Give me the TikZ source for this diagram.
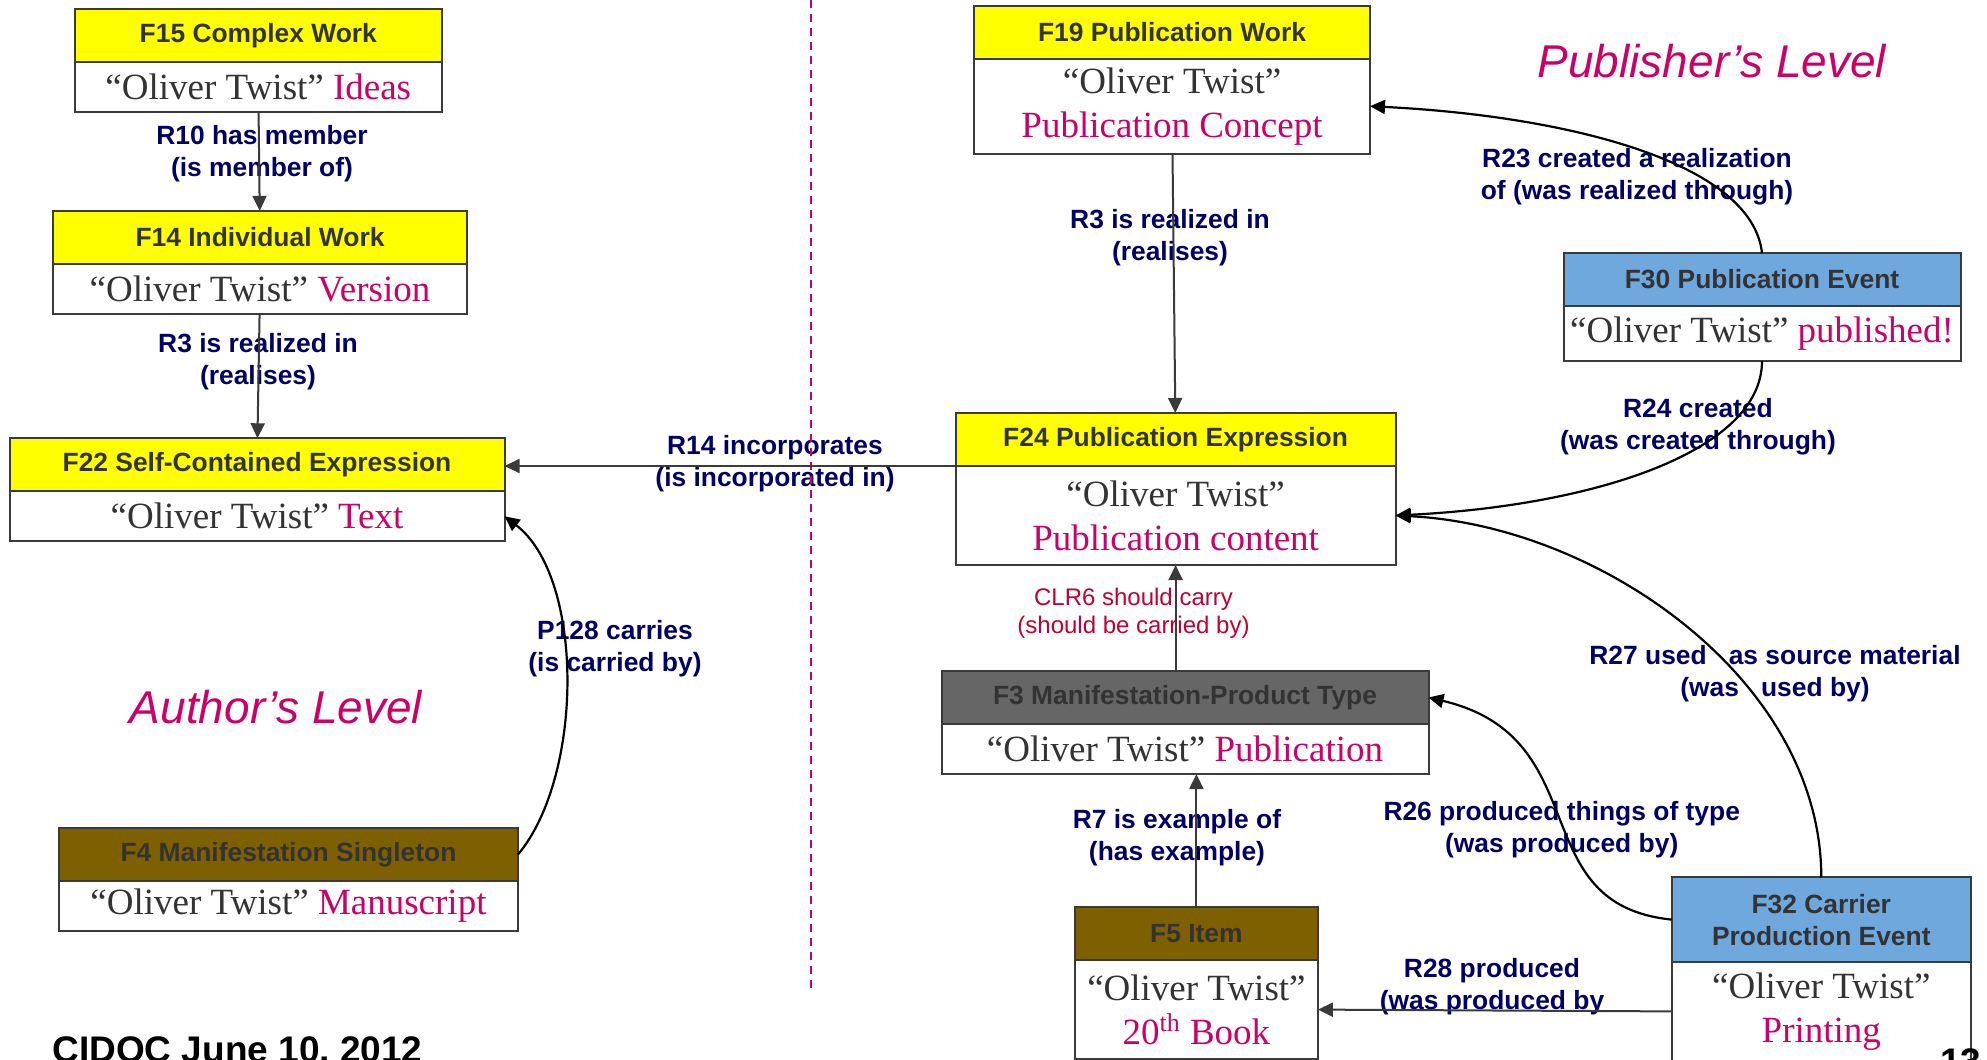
\documentclass[tikz,border=0pt]{standalone}
\usepackage{fontspec}
\setmainfont{Liberation Serif}
\setsansfont{Liberation Sans}
\usetikzlibrary{positioning,arrows.meta}

\definecolor{hdyellow}{RGB}{255,255,0}
\definecolor{hdblue}{RGB}{111,168,220}
\definecolor{hdbrown}{RGB}{127,96,0}
\definecolor{hdgray}{RGB}{102,102,102}
\definecolor{txtgray}{RGB}{51,51,51}
\definecolor{mag}{RGB}{204,0,102}
\definecolor{navy}{RGB}{0,0,102}
\definecolor{clrred}{RGB}{192,0,48}
\definecolor{edge}{RGB}{58,58,58}

\newcommand{\ot}{“Oliver Twist”}
\newcommand{\kind}[1]{\textcolor{mag}{#1}}

\begin{document}
\begin{tikzpicture}[
    x=0.5pt, y=-0.5pt,
    >={Triangle[length=7.5pt,width=7pt]},
    ent/.style={rectangle, draw=edge, line width=1pt, outer sep=0pt, inner sep=0pt, align=center, minimum height=26.5pt, text=txtgray, font=\sffamily\bfseries\fontsize{13.2}{16}\selectfont},
    val/.style={rectangle, draw=edge, line width=1pt, outer sep=0pt, fill=white, inner sep=0pt, align=center, minimum height=25pt, text=txtgray, font=\fontsize{18.5}{22}\selectfont},
    rel/.style={align=center, text=navy, inner sep=0pt, font=\sffamily\bfseries\fontsize{13.2}{16}\selectfont},
    link/.style={->, draw=edge, line width=1pt},
    arc/.style={->, draw=black, line width=1.1pt},
    level/.style={text=mag, font=\sffamily\itshape\fontsize{23}{27}\selectfont}
  ]
    \useasboundingbox (0,0) rectangle (1987,1060);

    % author's side
    \node[ent, fill=hdyellow, minimum width=183.5pt] (f15h) at (258.3,35.2) {F15 Complex Work};
    \node[val, minimum width=183.5pt, below=0pt of f15h] (f15b) {\ot{} \kind{Ideas}};

    \node[ent, fill=hdyellow, minimum width=207pt] (f14h) at (260,237.4) {F14 Individual Work};
    \node[val, minimum width=207pt, below=0pt of f14h] (f14b) {\ot{} \kind{Version}};

    \node[ent, fill=hdyellow, minimum width=247.5pt] (f22h) at (257,464.8) {F22 Self-Contained Expression};
    \node[val, minimum width=247.5pt, below=0pt of f22h] (f22b) {\ot{} \kind{Text}};

    \node[ent, fill=hdbrown, minimum width=229.5pt] (f4h) at (288.5,854.5) {F4 Manifestation Singleton};
    \node[val, minimum width=229.5pt, below=0pt of f4h] (f4b) {\ot{} \kind{Manuscript}};

    % publisher's side
    \node[ent, fill=hdyellow, minimum width=198pt] (f19h) at (1172,32.2) {F19 Publication Work};
    \node[val, minimum width=198pt, minimum height=47.5pt, below=0pt of f19h] (f19b) {\ot\\\kind{Publication Concept}};

    \node[ent, fill=hdyellow, minimum width=220pt] (f24h) at (1175.6,439.5) {F24 Publication Expression};
    \node[val, minimum width=220pt, minimum height=49.5pt, below=0pt of f24h] (f24b) {\ot\\\kind{Publication content}};

    \node[ent, fill=hdblue, minimum width=198.5pt] (f30h) at (1762,279.5) {F30 Publication Event};
    \node[val, minimum width=198.5pt, minimum height=27.5pt, below=0pt of f30h] (f30b) {\ot{} \kind{published!}};

    \node[ent, fill=hdgray, minimum width=243.5pt] (f3h) at (1185,697.5) {F3 Manifestation-Product Type};
    \node[val, minimum width=243.5pt, below=0pt of f3h] (f3b) {\ot{} \kind{Publication}};

    \node[ent, fill=hdbrown, minimum width=121.5pt] (f5h) at (1196.4,933.6) {F5 Item};
    \node[val, minimum width=121.5pt, minimum height=49.5pt, below=0pt of f5h] (f5b) {\ot\\\kind{20\textsuperscript{th} Book}};

    \node[ent, fill=hdblue, minimum width=149.5pt, minimum height=42.3pt] (f32h) at (1821.3,919.6) {F32 Carrier\\Production Event};
    \node[val, minimum width=149.5pt, minimum height=49.5pt, below=0pt of f32h] (f32b) {\ot\\\kind{Printing}};

    % property labels
    \node[rel] (r10) at (262,153.5) {R10 has member\\(is member of)};
    \node[rel] (r3a) at (258,361.6) {R3 is realized in\\(realises)};
    \node[rel] (r14) at (775,464) {R14 incorporates\\(is incorporated in)};
    \node[rel] (p128) at (615,649) {P128 carries\\(is carried by)};
    \node[rel] (r3b) at (1170,238) {R3 is realized in\\(realises)};
    \node[rel] (r23) at (1637,176.8) {R23 created a realization\\of (was realized through)};
    \node[rel] (r24) at (1698,427) {R24 created\\(was created through)};
    \node[rel, text=clrred, font=\sffamily\fontsize{12}{13.6}\selectfont] (clr6) at (1133.5,613.3) {CLR6 should carry\\(should be carried by)};
    \node[rel] (r7) at (1177,837.6) {R7 is example of\\(has example)};
    \node[rel] (r26) at (1561.7,829.3) {R26 produced things of type\\(was produced by)};
    \node[rel] (r27) at (1775,673.5) {R27 used\ \ \ as source material\\(was\ \ \ used by)};
    \node[rel] (r28) at (1492,986.5) {R28 produced\\(was produced by};

    \node[level] (authlvl) at (276,707.5) {Author’s Level};
    \node[level] (publvl) at (1712,60.7) {Publisher’s Level};

    \node[anchor=base west, inner sep=0pt, font=\sffamily\bfseries\fontsize{18.5}{22}\selectfont] (cidoc) at (52,1062) {CIDOC June 10, 2012};
    \node[anchor=base west, inner sep=0pt, font=\sffamily\bfseries\fontsize{18.5}{22}\selectfont] (pageno) at (1940,1074) {13};

    % divider
    \draw[mag, line width=1pt, dash pattern=on 4pt off 3pt] (810.7,0) -- (810.7,992.7);

    % straight links
    \draw[link] (f15b) -- (f14h);
    \draw[link] (f14b) -- (f22h);
    \draw[link] (f24h.south west) -- (f24h.south west -| f22h.east);
    \draw[link] (f19b) -- (f24h);
    \draw[link] (f3h.north -| f24b.south) -- (f24b.south);
    \draw[link] (f5h.north) -- (f5h.north |- f3b.south);
    \draw[link] (f32b.west) -- (f5b.east);

    % curved links
    \draw[arc] (f4h.east) .. controls +(66,-79) and +(80,61) .. (f22b.east);
    \draw[arc] (f30h.north) .. controls +(-10,-90) and +(200,10) .. (f19b.east);
    \draw[arc] (f30b.south) .. controls +(0,90) and +(200,-10) .. (f24b.east);
    \draw[arc] (f32h.north) .. controls +(0,-197) and +(204,10) .. (f24b.east);
    \draw[arc] (f32h.west) .. controls +(-150,-15) and +(170,40) .. (f3h.east);
  \end{tikzpicture}
\end{document}
